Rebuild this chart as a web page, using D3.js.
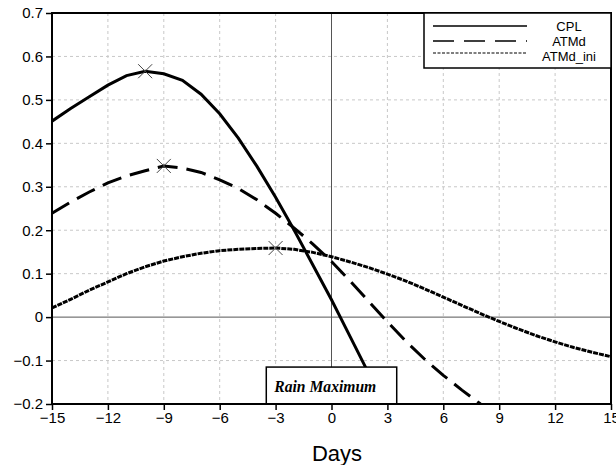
<!DOCTYPE html>
<html>
<head>
<meta charset="utf-8">
<script src="https://cdn.jsdelivr.net/npm/d3@7"></script>
<style>
  body { margin: 0; background: #fff; }
  text { font-family: "Liberation Sans", Arial, sans-serif; }
</style>
</head>
<body>
<div id="chart"></div>
<script>
var w = 616,
    h = 465;

// Data
var days = d3.range(-15, 16);
var cpl = [0.451, 0.48, 0.507, 0.534, 0.556, 0.566, 0.56, 0.545, 0.513, 0.468,
           0.412, 0.347, 0.276, 0.2, 0.12, 0.04, -0.045, -0.13, -0.215,
           null, null, null, null, null, null, null, null, null, null, null, null];
var atmd = [0.239, 0.265, 0.288, 0.309, 0.325, 0.337, 0.348, 0.343, 0.333, 0.316,
            0.296, 0.27, 0.239, 0.205, 0.168, 0.128, 0.083, 0.036, -0.011, -0.056,
            -0.097, -0.134, -0.168, -0.2, -0.23, null, null, null, null, null, null];
var atmdIni = [0.021, 0.041, 0.062, 0.081, 0.1, 0.116, 0.129, 0.139, 0.147, 0.153,
               0.156, 0.158, 0.159, 0.156, 0.149, 0.139, 0.127, 0.114, 0.099, 0.083,
               0.065, 0.046, 0.027, 0.008, -0.01, -0.027, -0.043, -0.057, -0.07, -0.081, -0.091];
var seriesNames = ["CPL", "ATMd", "ATMd_ini"];
var xTicks = [-15, -12, -9, -6, -3, 0, 3, 6, 9, 12, 15];
var yTicks = [-0.2, -0.1, 0, 0.1, 0.2, 0.3, 0.4, 0.5, 0.6, 0.7];

var series = [
  {name: seriesNames[0], values: cpl, width: 3, dash: null, lw: 1.5, ldash: null},
  {name: seriesNames[1], values: atmd, width: 3, dash: "20,9", lw: 1.5, ldash: "21,10"},
  {name: seriesNames[2], values: atmdIni, width: 3, dash: "5,1", lw: 1.2, ldash: "3,1.5"}
];

var m = {l: 52, r: 5, t: 13, b: 61};

var x = d3.scaleLinear().domain([-15, 15]).range([m.l, w - m.r]);
var y = d3.scaleLinear().domain([-0.2, 0.7]).range([h - m.b, m.t]);

var svg = d3.select("#chart").append("svg")
  .attr("width", w)
  .attr("height", h);

svg.append("rect").attr("width", w).attr("height", h).attr("fill", "#fff");

svg.append("clipPath").attr("id", "clip")
  .append("rect")
  .attr("x", m.l).attr("y", m.t)
  .attr("width", w - m.l - m.r).attr("height", h - m.t - m.b);

// grid
var grid = svg.append("g");
grid.selectAll(".gx").data(xTicks.slice(1, -1).filter(function(d){ return d != 0; }))
  .enter().append("line")
  .attr("x1", function(d){ return x(d); }).attr("x2", function(d){ return x(d); })
  .attr("y1", m.t).attr("y2", h - m.b)
  .attr("stroke", "#c8c8c8").attr("stroke-dasharray", "3,3");
grid.selectAll(".gy").data(yTicks.slice(1, -1).filter(function(d){ return d != 0; }))
  .enter().append("line")
  .attr("y1", function(d){ return y(d); }).attr("y2", function(d){ return y(d); })
  .attr("x1", m.l).attr("x2", w - m.r)
  .attr("stroke", "#c8c8c8").attr("stroke-dasharray", "3,3");

// zero lines
grid.append("line").attr("x1", x(0)).attr("x2", x(0)).attr("y1", m.t).attr("y2", h - m.b)
  .attr("stroke", "#555").attr("stroke-width", 1);
grid.append("line").attr("x1", m.l).attr("x2", w - m.r).attr("y1", y(0)).attr("y2", y(0))
  .attr("stroke", "#555").attr("stroke-width", 1);

// curves
var line = d3.line()
  .defined(function(d){ return d[1] != null; })
  .x(function(d){ return x(d[0]); })
  .y(function(d){ return y(d[1]); });

var plot = svg.append("g").attr("clip-path", "url(#clip)");
series.forEach(function(s) {
  plot.append("path")
    .datum(days.map(function(d, i){ return [d, s.values[i]]; }))
    .attr("d", line)
    .attr("fill", "none")
    .attr("stroke", "#000")
    .attr("stroke-width", s.width)
    .attr("stroke-dasharray", s.dash);
});

// max markers
series.forEach(function(s) {
  var i = d3.maxIndex(s.values);
  var cx = x(days[i]), cy = y(s.values[i]);
  plot.append("path")
    .attr("d", "M" + (cx - 7) + "," + (cy - 7) + "L" + (cx + 7) + "," + (cy + 7) +
               "M" + (cx - 7) + "," + (cy + 7) + "L" + (cx + 7) + "," + (cy - 7))
    .attr("stroke", "#444").attr("stroke-width", 1).attr("fill", "none");
});

// Rain maximum box
svg.append("rect")
  .attr("x", x(-3.5)).attr("y", y(-0.115))
  .attr("width", x(3.5) - x(-3.5)).attr("height", y(-0.2) - y(-0.115))
  .attr("fill", "#fff").attr("stroke", "#000").attr("stroke-width", 1.5);
svg.append("text")
  .attr("x", x(-3.5) + 8).attr("y", y(-0.115) + 25)
  .style("font-family", "'Liberation Serif', serif")
  .attr("font-weight", "bold").attr("font-style", "italic")
  .attr("font-size", "17px")
  .attr("textLength", 102).attr("lengthAdjust", "spacingAndGlyphs")
  .text("Rain Maximum");

// frame
svg.append("rect")
  .attr("x", m.l).attr("y", m.t)
  .attr("width", w - m.l - m.r).attr("height", h - m.t - m.b)
  .attr("fill", "none").attr("stroke", "#000").attr("stroke-width", 2);

// axes
var xAxis = svg.append("g")
  .attr("transform", "translate(0," + (h - m.b) + ")")
  .call(d3.axisBottom(x).tickValues(xTicks).tickSize(6).tickSizeOuter(0)
    .tickFormat(function(d){ return d3.format("d")(d).replace("-", "\u2212"); }));
xAxis.select(".domain").remove();
xAxis.selectAll("line").attr("stroke-width", 1.5);
xAxis.selectAll("text").attr("font-size", "15px").attr("font-family", null).attr("dy", "0.95em").attr("y", 5);

var yAxis = svg.append("g")
  .attr("transform", "translate(" + m.l + ",0)")
  .call(d3.axisLeft(y).tickValues(yTicks).tickSize(6).tickSizeOuter(0)
    .tickFormat(function(d){ return (d == 0 ? "0" : d3.format(".1f")(d)).replace("-", "\u2212"); }));
yAxis.select(".domain").remove();
yAxis.selectAll("line").attr("stroke-width", 1.5);
yAxis.selectAll("text").attr("font-size", "15px").attr("font-family", null).attr("x", -9);

svg.append("text")
  .attr("x", 337).attr("y", 461)
  .attr("text-anchor", "middle")
  .attr("font-size", "22px")
  .text("Days");

// Legend
var legend = svg.append("g");
legend.append("rect")
  .attr("x", 424).attr("y", m.t)
  .attr("width", w - m.r - 424).attr("height", 55)
  .attr("fill", "#fff").attr("stroke", "#000").attr("stroke-width", 1.5);
var ly = [26, 41, 53], ty = [31, 46, 60.5];
series.forEach(function(s, i) {
  legend.append("line")
    .attr("x1", 433).attr("x2", 527)
    .attr("y1", ly[i]).attr("y2", ly[i])
    .attr("stroke", "#000").attr("stroke-width", s.lw)
    .attr("stroke-dasharray", s.ldash);
  legend.append("text")
    .attr("x", 569).attr("y", ty[i])
    .attr("text-anchor", "middle")
    .attr("font-size", "13px")
    .text(s.name);
});
</script>
</body>
</html>
